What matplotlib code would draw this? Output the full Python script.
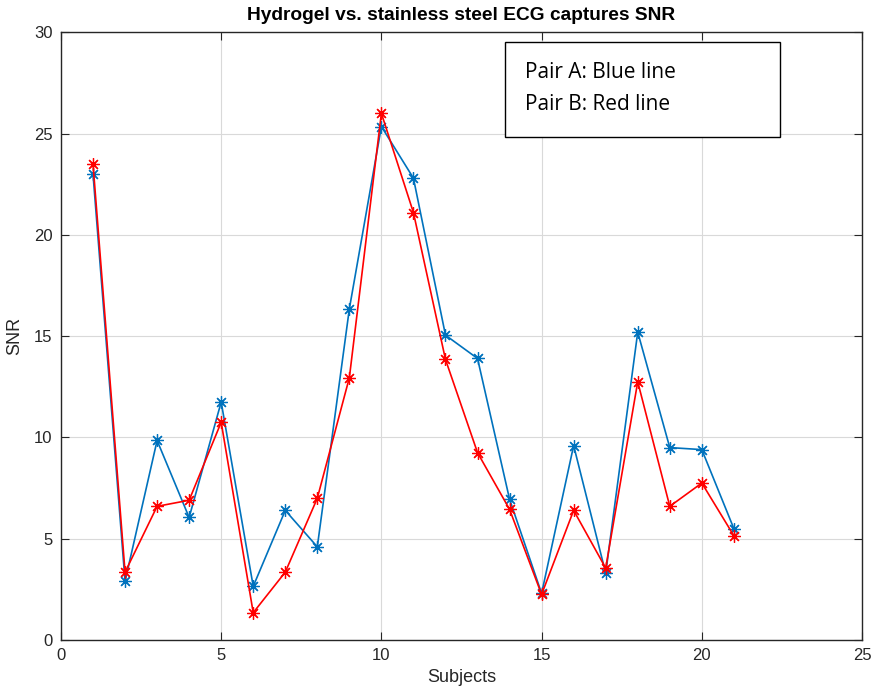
import numpy as np
import matplotlib.pyplot as plt
from matplotlib.patches import Rectangle

# subjects and SNR values for the two electrode pairs
subjects = list(range(1, 22))
snr_a = [23.0, 2.9, 9.85, 6.05, 11.75, 2.65, 6.4, 4.6, 16.35, 25.35, 22.8,
         15.05, 13.9, 6.95, 2.3, 9.6, 3.3, 15.2, 9.5, 9.4, 5.5]
snr_b = [23.5, 3.35, 6.6, 6.9, 10.75, 1.35, 3.35, 7.0, 12.95, 26.0, 21.1,
         13.85, 9.25, 6.45, 2.25, 6.4, 3.55, 12.75, 6.6, 7.75, 5.15]

xticks = [0, 5, 10, 15, 20, 25]
yticks = [0, 5, 10, 15, 20, 25, 30]

plt.rcParams['font.family'] = ['Liberation Sans', 'DejaVu Sans']
axcol = (0.15, 0.15, 0.15)

fig = plt.figure(figsize=(8.71, 6.95), dpi=100)
ax = fig.add_axes([0.070, 0.0791, 0.9197, 0.8744])

star = (8, 2, 0)
ax.plot(subjects, snr_a, color='#0072BD', lw=1.2, marker=star, ms=9, mew=0.9)
ax.plot(subjects, snr_b, color='#FF0000', lw=1.2, marker=star, ms=9, mew=0.9)

ax.set_xlim(0, 25)
ax.set_ylim(0, 30)
ax.set_xticks(xticks)
ax.set_yticks(yticks)
ax.grid(True, color=(0.85, 0.85, 0.85), lw=0.8)
ax.set_axisbelow(True)
ax.tick_params(direction='in', top=True, right=True, length=6, colors=axcol,
               labelsize=12, pad=6)
for s in ax.spines.values():
    s.set_color(axcol)
    s.set_linewidth(1.0)

ax.set_xlabel('Subjects', fontsize=13, color=axcol, labelpad=4)
ax.set_ylabel('SNR', fontsize=13, color=axcol, labelpad=8)
ax.set_title('Hydrogel vs. stainless steel ECG captures SNR', fontsize=13.8,
             fontweight='bold', pad=9)

# annotation box
ax.add_patch(Rectangle((0.5545, 0.8277), 0.3435, 0.1563, transform=ax.transAxes,
                       fill=True, facecolor='white', edgecolor='black', lw=1.0,
                       zorder=5))
ax.text(0.5795, 0.934, 'Pair A: Blue line', transform=ax.transAxes, fontsize=15,
        family=['Open Sans', 'DejaVu Sans'], va='center', zorder=6)
ax.text(0.5795, 0.881, 'Pair B: Red line', transform=ax.transAxes, fontsize=15,
        family=['Open Sans', 'DejaVu Sans'], va='center', zorder=6)

fig.savefig('out.png', dpi=100)
